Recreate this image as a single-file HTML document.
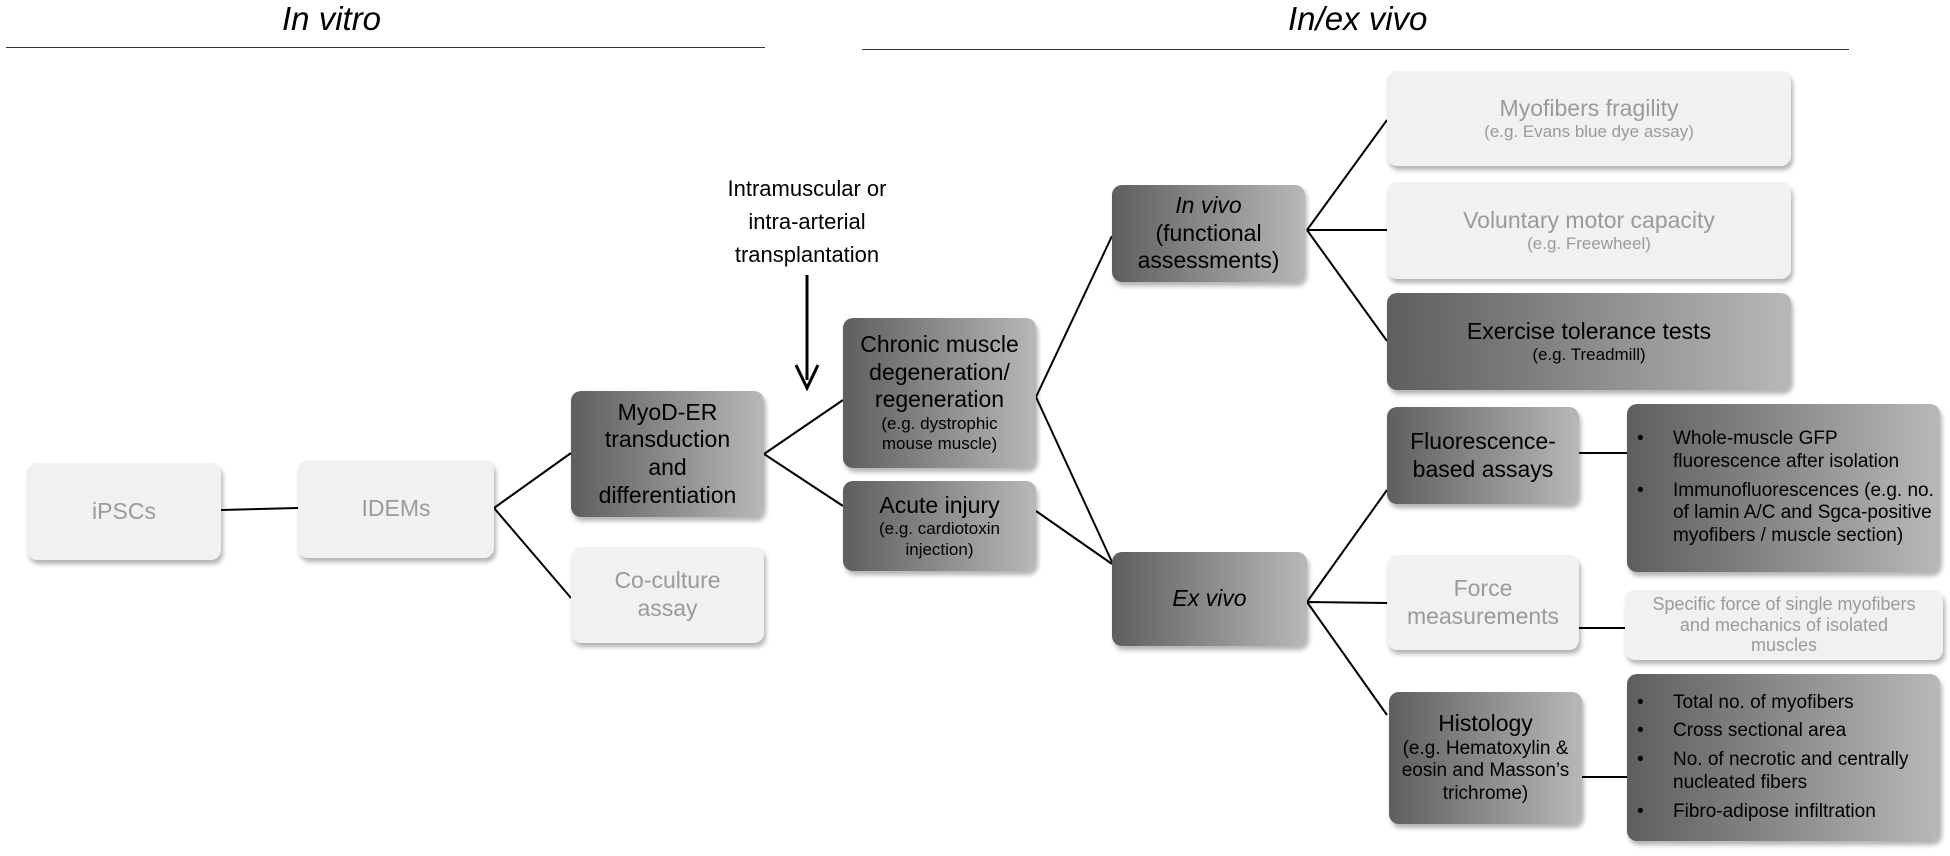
<!DOCTYPE html>
<html><head><meta charset="utf-8"><style>
body{margin:0;width:1950px;height:856px;background:#fff;position:relative;overflow:hidden;font-family:"Liberation Sans",sans-serif;}
.b{position:absolute;box-sizing:border-box;border-radius:10px;display:flex;flex-direction:column;justify-content:center;align-items:center;text-align:center;box-shadow:2px 4px 5px rgba(0,0,0,0.3);line-height:1.2;font-size:23px;}
.d{background:linear-gradient(to right,#5e5e5e,#b8b8b8);color:#000;}
.l{background:#f1f1f1;color:#9a9a9a;}
.s{font-size:17px;}
.h{position:absolute;font-style:italic;font-size:33px;top:0;}
.hl{position:absolute;height:1px;background:#333;}
ul{margin:0;padding:0 0 0 46px;text-align:left;list-style:none;font-size:19px;line-height:1.2;}
li{position:relative;margin:6px 0;}
li:before{content:"•";position:absolute;left:-36px;}
</style></head><body>
<div class="h" style="left:282px;">In vitro</div>
<div class="h" style="left:1288px;">In/ex vivo</div>
<div class="hl" style="left:6px;width:759px;top:47px;"></div>
<div class="hl" style="left:862px;width:987px;top:49px;"></div>

<svg width="1950" height="856" style="position:absolute;left:0;top:0" fill="none" stroke="#000" stroke-width="2">
<path d="M221 510L298 508M494 508L571 453M494 508L571 598M764 454L843 400M764 454L843 506M1036 397L1112 236M1036 397L1112 562M1036 511L1112 564M1307 230L1387 120M1307 230L1387 230M1307 230L1387 341M1307 602L1387 490M1307 602L1387 603M1307 602L1387 715M1579 453L1627 453M1579 628L1627 628M1582 777L1627 777"/>
<path d="M807 275L807 380" stroke-width="3"/>
<path d="M796 365L807 388L818 365" stroke-width="3"/>
</svg>

<div style="position:absolute;left:690px;width:234px;top:172px;text-align:center;font-size:22px;line-height:33px;">Intramuscular or<br>intra-arterial<br>transplantation</div>

<div class="b l" style="left:27px;top:463px;width:194px;height:97px;">iPSCs</div>
<div class="b l" style="left:298px;top:460px;width:196px;height:98px;">IDEMs</div>
<div class="b d" style="left:571px;top:391px;width:193px;height:126px;">MyoD-ER<br>transduction<br>and<br>differentiation</div>
<div class="b l" style="left:571px;top:547px;width:193px;height:96px;">Co-culture<br>assay</div>
<div class="b d" style="left:843px;top:318px;width:193px;height:150px;">Chronic muscle<br>degeneration/<br>regeneration<div class="s">(e.g. dystrophic<br>mouse muscle)</div></div>
<div class="b d" style="left:843px;top:481px;width:193px;height:90px;">Acute injury<div class="s">(e.g. cardiotoxin<br>injection)</div></div>
<div class="b d" style="left:1112px;top:185px;width:193px;height:97px;"><i>In vivo</i>(functional<br>assessments)</div>
<div class="b d" style="left:1112px;top:552px;width:195px;height:94px;"><i>Ex vivo</i></div>
<div class="b l" style="left:1387px;top:71px;width:404px;height:95px;">Myofibers fragility<div class="s">(e.g. Evans blue dye assay)</div></div>
<div class="b l" style="left:1387px;top:182px;width:404px;height:97px;">Voluntary motor capacity<div class="s">(e.g. Freewheel)</div></div>
<div class="b d" style="left:1387px;top:293px;width:404px;height:97px;">Exercise tolerance tests<div class="s">(e.g. Treadmill)</div></div>
<div class="b d" style="left:1387px;top:407px;width:192px;height:97px;">Fluorescence-<br>based assays</div>
<div class="b l" style="left:1387px;top:555px;width:192px;height:95px;">Force<br>measurements</div>
<div class="b d" style="left:1389px;top:692px;width:193px;height:132px;">Histology<div style="font-size:19px;">(e.g. Hematoxylin &amp;<br>eosin and Masson’s<br>trichrome)</div></div>
<div class="b d" style="left:1627px;top:404px;width:313px;height:168px;align-items:flex-start;"><ul><li>Whole-muscle GFP fluorescence after isolation</li><li>Immunofluorescences (e.g. no. of lamin A/C and Sgca-positive myofibers / muscle section)</li></ul></div>
<div class="b l" style="left:1625px;top:590px;width:318px;height:70px;font-size:18px;line-height:1.15;">Specific force of single myofibers<br>and mechanics of isolated<br>muscles</div>
<div class="b d" style="left:1627px;top:674px;width:313px;height:167px;align-items:flex-start;"><ul><li>Total no. of myofibers</li><li>Cross sectional area</li><li>No. of necrotic and centrally nucleated fibers</li><li>Fibro-adipose infiltration</li></ul></div>
</body></html>
